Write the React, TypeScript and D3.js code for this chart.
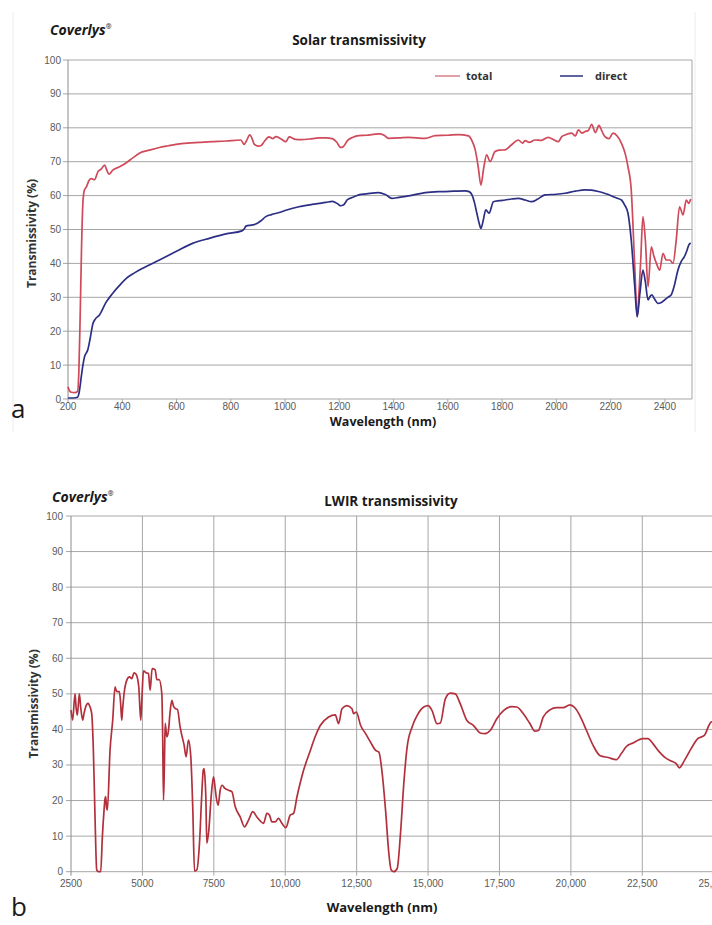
import React from "react";
import * as d3 from "d3";

// ---- Solar transmissivity (200–2500 nm) ----
const solarTotalNm = [200,205,212,225,235,240,245,250,255,260,268,278,286,298,310,322,335,343,351,365,390,415,440,463,500,537,570,598,640,684,730,782,837,849,858,870,880,886,902,912,923,941,955,966,984,1003,1015,1039,1060,1090,1125,1150,1174,1190,1205,1215,1230,1250,1272,1300,1345,1365,1381,1420,1455,1517,1554,1600,1639,1676,1690,1701,1712,1722,1732,1743,1756,1774,1790,1811,1835,1860,1875,1885,1900,1921,1945,1970,1990,2007,2020,2032,2057,2070,2081,2095,2106,2118,2130,2144,2157,2168,2179,2194,2209,2225,2240,2255,2264,2276,2289,2298,2305,2311,2319,2328,2338,2350,2360,2369,2381,2393,2405,2418,2430,2442,2454,2467,2479,2488,2495];
const solarTotal = [3.6,2.5,2.0,1.9,2.2,8,25,45,58,61.5,62.6,64.5,65,64.7,67,67.8,69,67.5,66.3,67.5,68.5,69.7,71.2,72.5,73.4,74.2,74.7,75.1,75.5,75.7,75.9,76.1,76.4,75.1,76.2,77.9,76.5,75.2,74.6,74.8,75.9,77.3,76.8,77.4,76.8,75.9,77.3,76.6,76.5,76.7,77.0,77.0,76.8,75.8,74.2,74.5,76.2,77.2,77.7,77.8,78.2,77.8,76.9,77.0,77.2,76.9,77.7,77.8,78.0,77.6,76.0,73.5,68.5,63.1,68,72.0,70,73,73.4,73.5,75,76.4,75.5,76.2,75.7,76.4,76.3,77.2,76.5,75.9,77.4,77.9,78.4,77.6,79.4,78.4,78.9,79.2,81,78.6,80.7,79,77.4,76.8,78.4,77.5,75.4,72,68.5,61.7,39,24.3,32,41,53.8,46.9,33.1,44.9,42,40,38,43,41,41,40,47,56.7,54.3,58.7,57.7,59];

const solarDirectNm = [200,220,235,240,245,249,255,261,273,282,292,300,316,340,365,390,415,445,476,537,598,659,721,782,841,850,856,875,892,910,929,950,978,1000,1051,1100,1150,1175,1195,1205,1215,1230,1250,1272,1300,1345,1370,1394,1420,1455,1517,1578,1620,1664,1680,1689,1698,1707,1715,1722,1730,1740,1752,1768,1790,1811,1835,1860,1885,1909,1930,1958,2000,2032,2070,2106,2130,2155,2180,2204,2225,2240,2252,2264,2276,2289,2298,2308,2319,2328,2338,2345,2352,2362,2374,2387,2399,2411,2423,2435,2448,2460,2472,2480,2488,2495];
const solarDirect = [0.3,0.3,0.5,1.5,4,6.6,10,12.5,14.5,18,22.3,23.5,24.8,28.5,31.2,33.5,35.6,37.2,38.6,41,43.5,45.9,47.4,48.7,49.6,50.2,51,51.3,51.6,52.5,53.8,54.4,55,55.6,56.7,57.4,58,58.3,57.5,57,57.2,58.8,59.5,60.2,60.5,60.9,60.3,59.2,59.5,59.9,60.9,61.2,61.3,61.4,61.1,60.2,58,54.8,52,50.3,52.5,55.8,54.8,58.2,58.5,58.7,59,59.2,58.7,58.2,58.9,60.2,60.4,60.7,61.3,61.7,61.6,61.2,60.6,59.9,59.2,58.7,57.2,54.8,46.9,33.1,24.3,31.2,38,34.6,29.2,30.2,30.7,29.5,28.2,28.5,29.2,30,30.7,33.5,38,40.5,42,43.5,45.4,46];

const solarXTicks = [200,400,600,800,1000,1200,1400,1600,1800,2000,2200,2400];
const solarYTicks = [0,10,20,30,40,50,60,70,80,90,100];

// ---- LWIR transmissivity (2500–25,000 nm) ----
const lwirNm = [2500,2558,2640,2680,2722,2792,2839,2909,2956,3049,3100,3143,3224,3283,3341,3400,3458,3540,3598,3657,3690,3715,3745,3773,3867,3960,4042,4080,4124,4194,4240,4276,4300,4358,4451,4545,4627,4708,4779,4872,4942,4990,5036,5129,5211,5270,5340,5445,5504,5586,5679,5710,5738,5770,5797,5855,5914,5970,6031,6090,6148,6227,6320,6378,6420,6460,6530,6612,6694,6765,6823,6905,6998,7080,7130,7162,7200,7220,7255,7325,7407,7489,7540,7582,7652,7722,7792,7886,8014,8131,8248,8423,8575,8715,8867,9007,9241,9357,9451,9533,9649,9766,9883,10023,10175,10292,10409,10526,10642,10876,11050,11226,11519,11752,11869,11986,12161,12336,12395,12488,12640,12814,12988,13163,13279,13395,13512,13628,13709,13802,13919,14035,14151,14267,14442,14616,14849,15000,15140,15314,15430,15605,15779,15953,16128,16360,16593,16826,17000,17174,17407,17640,17930,18105,18337,18570,18744,18860,19035,19267,19500,19733,19965,20140,20314,20547,20779,21012,21302,21593,21767,21942,22174,22523,22698,22872,23105,23279,23512,23686,23802,23977,24209,24442,24674,24849,24919,25000];
const lwirT = [45.4,42.6,50,46,44,50,46.3,42.6,44.5,47,47.3,46.8,44.5,34.2,15.4,0.5,0,0,9.8,17.3,20.5,21.1,18,17.3,34.2,42.6,52,51,50.6,50.6,47,42.6,45,50.1,53.8,54.8,54.3,55.9,55.5,52,42.6,50,56.5,55.9,55.7,51,57.1,56.8,54,54,50.1,38,20.1,30,41.7,37.9,39.8,45,48.2,46.5,45.9,45.6,40.7,38.4,37,35.6,32.3,37,32.3,17.3,0.2,0.5,8,22,28.5,29,25,21.1,8,11.7,21.1,26.7,24,21.1,18.7,22.9,24.3,23.4,22.9,22.5,18.3,15.4,12.6,14.5,16.9,15.4,13.6,16.4,15.9,14,14,15,13.6,12.4,15.9,16.4,21,25,28.5,34,38,41.1,43.5,44.1,41.6,45.8,46.7,45.8,44.4,44.9,41.1,38.8,36.4,34.1,33.6,27.6,17.3,5.1,0.5,0,0.9,10.7,24.8,35,40.7,43.9,46.3,46.7,45.3,41.6,41.8,48.6,50.2,50,47.2,42.5,41.1,39,38.8,39.7,43,45.3,46.4,46.3,44.4,41.6,39.5,39.7,43.5,45.5,46.1,46.1,46.9,46.1,43.9,39.7,35.5,32.7,32.1,31.5,33.2,35.2,36.2,37.4,37.4,36,33.6,32.2,31.1,30.4,29.2,31.3,34.6,37.4,38.3,41.4,42.1,42];

const lwirXTicks = [2500,5000,7500,10000,12500,15000,17500,20000,22500,25000];
const lwirYTicks = [0,10,20,30,40,50,60,70,80,90,100];

const W = 712;
const H = 925;
const SANS = "'Liberation Sans', Arial, sans-serif";
const TITLE = "'Open Sans', 'Noto Sans', sans-serif";
const GRID = "#a6a6a6";
const TICK_TXT = "#5a5a5a";

const fmtThousands = d3.format(",");

function Brand({ x, y }: { x: number; y: number }) {
  return (
    <text x={x} y={y} fontFamily={TITLE} fontSize={14} fontWeight={700} fontStyle="italic" fill="#1a1a1a">
      Coverlys
      <tspan fontSize={7} dy={-6} fontStyle="normal" fill="#444">®</tspan>
    </text>
  );
}

function SolarChart() {
  const x = d3.scaleLinear().domain([200, 2500]).range([68, 692]);
  const y = d3.scaleLinear().domain([0, 100]).range([399, 60]);
  const line = d3
    .line<[number, number]>()
    .x((d) => x(d[0]))
    .y((d) => y(d[1]))
    .curve(d3.curveMonotoneX);
  const total = solarTotalNm.map((n, i) => [n, solarTotal[i]] as [number, number]);
  const direct = solarDirectNm.map((n, i) => [n, solarDirect[i]] as [number, number]);
  const [x0, x1] = x.range();
  const [yb, yt] = y.range();
  return (
    <g>
      {/* chart area outline */}
      <line x1={13} x2={13} y1={12} y2={432} stroke="#ececec" />
      <line x1={695} x2={695} y1={12} y2={432} stroke="#ececec" />
      <Brand x={50} y={35} />
      <text x={359} y={45} textAnchor="middle" fontFamily={TITLE} fontSize={13.5} fontWeight={700} fill="#1a1a1a">
        Solar transmissivity
      </text>
      {solarYTicks.map((t) => (
        <g key={t}>
          <line x1={x0} x2={x1} y1={y(t)} y2={y(t)} stroke={GRID} strokeWidth={1} />
          <line x1={x0 - 5} x2={x0} y1={y(t)} y2={y(t)} stroke={GRID} />
          <text x={x0 - 7} y={y(t)} dy="0.35em" textAnchor="end" fontFamily={SANS} fontSize={10} fill={TICK_TXT}>
            {t}
          </text>
        </g>
      ))}
      <line x1={x0} x2={x0} y1={yt} y2={yb} stroke="#8c8c8c" />
      <line x1={x1} x2={x1} y1={yt} y2={yb} stroke={GRID} />
      {solarXTicks.map((t) => (
        <g key={t}>
          <line x1={x(t)} x2={x(t)} y1={yb} y2={yb + 4} stroke={GRID} />
          <text x={x(t)} y={yb + 11} textAnchor="middle" fontFamily={SANS} fontSize={10} fill={TICK_TXT}>
            {t}
          </text>
        </g>
      ))}
      <path d={line(total) ?? ""} fill="none" stroke="#cf4a5a" strokeWidth={1.7} strokeLinejoin="round" />
      <path d={line(direct) ?? ""} fill="none" stroke="#2c2f84" strokeWidth={1.7} strokeLinejoin="round" />
      {/* legend */}
      <line x1={435} x2={460} y1={76} y2={76} stroke="#d88a92" strokeWidth={1.6} />
      <text x={466} y={76} dy="0.35em" fontFamily={TITLE} fontSize={11} fontWeight={700} fill="#333">
        total
      </text>
      <line x1={560} x2={583} y1={76} y2={76} stroke="#3a3d85" strokeWidth={1.6} />
      <text x={595} y={76} dy="0.35em" fontFamily={TITLE} fontSize={11} fontWeight={700} fill="#333">
        direct
      </text>
      <text
        transform={`translate(36,${(yt + yb) / 2 + 4}) rotate(-90)`}
        textAnchor="middle"
        fontFamily={TITLE}
        fontSize={12}
        fontWeight={700}
        fill="#333"
      >
        Transmissivity (%)
      </text>
      <text x={383} y={426} textAnchor="middle" fontFamily={TITLE} fontSize={12.5} fontWeight={700} fill="#1a1a1a">
        Wavelength (nm)
      </text>
      <text x={11} y={418} fontFamily={TITLE} fontSize={26} fill="#1a1a1a">
        a
      </text>
    </g>
  );
}

function LwirChart() {
  const x = d3.scaleLinear().domain([2500, 25000]).range([71, 713.7]);
  const y = d3.scaleLinear().domain([0, 100]).range([871.7, 516]);
  const line = d3
    .line<[number, number]>()
    .x((d) => x(d[0]))
    .y((d) => y(d[1]))
    .curve(d3.curveMonotoneX);
  const data = lwirNm.map((n, i) => [n, lwirT[i]] as [number, number]);
  const [x0, x1] = x.range();
  const [yb, yt] = y.range();
  return (
    <g>
      <Brand x={52} y={502} />
      <text x={391} y={506} textAnchor="middle" fontFamily={TITLE} fontSize={13.5} fontWeight={700} fill="#1a1a1a">
        LWIR transmissivity
      </text>
      {lwirYTicks.map((t) => (
        <g key={t}>
          <line x1={x0} x2={x1} y1={y(t)} y2={y(t)} stroke={GRID} />
          <line x1={x0 - 5} x2={x0} y1={y(t)} y2={y(t)} stroke={GRID} />
          <text x={x0 - 8} y={y(t)} dy="0.35em" textAnchor="end" fontFamily={SANS} fontSize={10} fill={TICK_TXT}>
            {t}
          </text>
        </g>
      ))}
      {lwirXTicks.map((t) => (
        <g key={t}>
          <line x1={x(t)} x2={x(t)} y1={yt} y2={yb + 4} stroke={t === 2500 ? "#8c8c8c" : GRID} />
          <text x={x(t)} y={yb + 15} textAnchor="middle" fontFamily={SANS} fontSize={10} fill={TICK_TXT}>
            {t >= 10000 ? fmtThousands(t) : String(t)}
          </text>
        </g>
      ))}
      <path d={line(data) ?? ""} fill="none" stroke="#b2303c" strokeWidth={1.7} strokeLinejoin="round" />
      <text
        transform={`translate(38,${(yt + yb) / 2 + 10}) rotate(-90)`}
        textAnchor="middle"
        fontFamily={TITLE}
        fontSize={12}
        fontWeight={700}
        fill="#333"
      >
        Transmissivity (%)
      </text>
      <text x={382} y={912} textAnchor="middle" fontFamily={TITLE} fontSize={13} fontWeight={700} fill="#1a1a1a">
        Wavelength (nm)
      </text>
      <text x={11} y={916} fontFamily={TITLE} fontSize={26} fill="#1a1a1a">
        b
      </text>
    </g>
  );
}

export default function App() {
  return (
    <svg
      width={W}
      height={H}
      viewBox={`0 0 ${W} ${H}`}
      style={{ position: "absolute", left: 0, top: 0, display: "block", background: "#fff" }}
    >
      <rect width={W} height={H} fill="#fff" />
      <SolarChart />
      <LwirChart />
    </svg>
  );
}
